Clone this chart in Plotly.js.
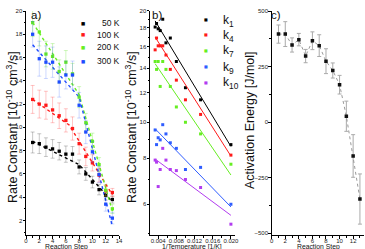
<!DOCTYPE html>
<html><head><meta charset="utf-8">
<script src="https://cdn.plot.ly/plotly-3.0.1.min.js"></script>
<style>html,body{margin:0;padding:0;background:#fff}#chart{width:365px;height:249px}</style>
</head><body><div id="chart"></div>
<script>
// ---------- Panel a: rate constants vs reaction step ----------
const steps = [1,2,3,4,5,6,7,8,9,10,11,12,13];
const k50K  = [8.7,8.6,8.3,8.15,7.95,7.7,7.7,6.6,6.0,5.3,4.65,4.15,3.8];
const k100K = [12.4,12.0,11.9,11.5,11.0,10.6,9.9,8.6,7.5,6.95,5.9,4.55,4.4];
const k200K = [19.0,18.2,16.3,16.1,14.8,15.6,14.6,12.6,10.4,8.8,6.8,4.6,3.0];
const k300K = [18.0,15.9,15.6,15.6,13.9,14.5,14.5,11.9,9.6,7.9,5.95,3.4,2.2];
const e50K  = [0.9,0.85,0.8,0.8,0.75,0.7,0.65,0.6,0.55,0.5,0.45,0.4,0.3];
const e100K = [1.2,1.2,1.2,1.1,1.1,1.0,1.0,0.9,0.8,0.7,0.6,0.45,0.35];
const e200K = [1.2,1.2,1.1,1.1,1.0,1.0,0.9,0.9,0.8,0.7,0.6,0.5,0.4];
const e300K = [1.1,1.5,1.4,1.3,1.3,1.2,1.2,1.1,1.0,0.9,0.7,0.6,0.5];
// piecewise linear fits (dotted)
const fit50X = [1,8,13],   fit50Y  = [8.8,6.8,3.6];
const fit100X = [1,6.5,13], fit100Y = [12.4,10.2,4.2];
const fit200X = [1,8,13],  fit200Y = [19.0,12.8,2.8];
const fit300X = [1,8,13],  fit300Y = [17.1,12.6,1.5];
const seriesA = ['50 K','100 K','200 K','300 K'];

// ---------- Panel b: rate constants vs 1/T ----------
const invT = [0.00333,0.00364,0.0040,0.00444,0.0050,0.00571,0.00667,0.0080,0.0100,0.01333,0.0200];
const kb1  = [18.1,18.5,17.9,17.7,19.0,16.4,16.9,14.6,12.4,11.5,8.7];
const kb4  = [15.7,16.9,16.1,16.1,16.1,15.2,13.9,13.0,11.5,10.5,8.15];
const kb7  = [14.6,13.9,14.6,12.5,14.6,13.9,12.5,11.0,10.0,9.3,7.7];
const kb9  = [9.53,8.7,9.08,8.96,9.85,9.3,8.8,8.5,7.45,7.55,6.0];
const kb10 = [7.9,7.8,6.7,7.45,8.5,7.9,7.45,7.4,7.0,6.66,5.3];
const fitBX = [0.00333,0.0200];
const fitB1 = [18.8,8.6], fitB4 = [17.0,8.1], fitB7 = [14.4,7.2], fitB9 = [9.6,5.9], fitB10 = [7.95,5.6];
const seriesB = ['k<sub>1</sub>','k<sub>4</sub>','k<sub>7</sub>','k<sub>9</sub>','k<sub>10</sub>'];

// ---------- Panel c: activation energy ----------
const eAct = [396,396,347,371,297,366,344,274,232,168,26,-153,-347];
const eActErr = [41,56,32,28,30,40,49,56,34,42,68,96,113];

const colA = ['#000000','#ff1a1a','#66ee22','#1f4dff'];
const errA = ['rgba(0,0,0,0.22)','rgba(255,30,30,0.25)','rgba(100,230,40,0.3)','rgba(30,80,255,0.22)'];
const colB = ['#000000','#ff1a1a','#66ee22','#2f5dff','#b23cf0'];

const traces = [];
const ptsA = [k50K,k100K,k200K,k300K], errsA = [e50K,e100K,e200K,e300K];
const fxA = [fit50X,fit100X,fit200X,fit300X], fyA = [fit50Y,fit100Y,fit200Y,fit300Y];
for (let i=0;i<4;i++){
  traces.push({x:fxA[i], y:fyA[i], xaxis:'x', yaxis:'y', mode:'lines', showlegend:false,
    line:{color:colA[i], width:1.4, dash:'dot'}, hoverinfo:'skip'});
}
for (let i=0;i<4;i++){
  traces.push({x:steps, y:ptsA[i], name:seriesA[i], xaxis:'x', yaxis:'y', mode:'markers', showlegend:false,
    marker:{symbol:'square', size:3.3, color:colA[i]},
    error_y:{type:'data', array:errsA[i], visible:true, color:errA[i], thickness:1, width:2}});
}
const ptsB = [kb1,kb4,kb7,kb9,kb10], fyB = [fitB1,fitB4,fitB7,fitB9,fitB10];
for (let i=0;i<5;i++){
  traces.push({x:fitBX, y:fyB[i], xaxis:'x2', yaxis:'y2', mode:'lines', showlegend:false,
    line:{color:colB[i], width:1}, hoverinfo:'skip'});
  traces.push({x:invT, y:ptsB[i], name:seriesB[i], xaxis:'x2', yaxis:'y2', mode:'markers', showlegend:false,
    marker:{symbol:'square', size:3, color:colB[i]}});
}
traces.push({x:steps, y:eAct, xaxis:'x3', yaxis:'y3', mode:'lines+markers', showlegend:false,
  line:{color:'#9a9a9a', width:1, dash:'dot'},
  marker:{symbol:'square', size:3.5, color:'#111'},
  error_y:{type:'data', array:eActErr, visible:true, color:'#aaaaaa', thickness:1, width:2}});

const W=365, H=249, T=11, B=235;
const px = v => v/W;
const py = v => (B - v)/(B - T);
const FONT = 'Liberation Sans, Arial, sans-serif';
const tf = {family:FONT, size:6, color:'#222'};
function ax(extra){
  return Object.assign({showline:true, linecolor:'#000', linewidth:1, ticks:'outside', ticklen:2.5,
    tickwidth:1, tickcolor:'#000', showgrid:false, zeroline:false, tickfont:tf, fixedrange:true}, extra);
}
function xax(extra){ return ax(Object.assign({ticklabelstandoff:-3}, extra)); }
function yax(extra){ return ax(Object.assign({ticklabelstandoff:-1}, extra)); }

const ann = [];
function txt(x,y,text,size,extra){
  ann.push(Object.assign({xref:'paper', yref:'paper', x:px(x), y:py(y), text:text, showarrow:false,
    font:{family:FONT, size:size, color:'#111'}, xanchor:'center', yanchor:'middle'}, extra||{}));
}
txt(36,15,'a)',11.5);
txt(157,15,'b)',11.5);
txt(276,15,'c)',11.5);
txt(12,127,'Rate Constant [10<sup>-10</sup> cm<sup>3</sup>/s]',12.5,{textangle:-90});
txt(131,127,'Rate Constant [10<sup>-10</sup> cm<sup>3</sup>/s]',12.5,{textangle:-90});
txt(250,120,'Activation Energy [J/mol]',12.5,{textangle:-90});
txt(66,246.5,'Reaction Step',6.8);
txt(192,246.5,'1/Temperature [1/K]',6.8);
txt(318,246.5,'Reaction Step',6.8);
// legend a
const legAy = [23,34.5,47,61];
for (let i=0;i<4;i++){
  txt(83,legAy[i],'■',4.5,{font:{family:'DejaVu Sans', size:4.5, color:colA[i]}});
  txt(122,legAy[i],seriesA[i],8.5,{xanchor:'right'});
}
// legend b
const legBy = [20,34.5,50,66.5,82];
for (let i=0;i<5;i++){
  txt(205.5,legBy[i],'■',4,{font:{family:'DejaVu Sans', size:4, color:colB[i]}});
  txt(221,legBy[i]+1,seriesB[i],12,{xanchor:'left'});
}

const layout = {
  width:W, height:H, margin:{l:0,r:0,t:T,b:H-B}, paper_bgcolor:'#fff', plot_bgcolor:'#fff',
  showlegend:false, annotations:ann,
  xaxis: xax({domain:[px(26),px(119)], range:[0,14], tickvals:[0,2,4,6,8,10,12,14],
    minor:{ticks:'outside', ticklen:1.5, dtick:1, tickcolor:'#000'}, anchor:'y'}),
  yaxis: yax({domain:[0,1], range:[0.75,20], tickvals:[2,4,6,8,10,12,14,16,18,20],
    minor:{ticks:'outside', ticklen:1.5, dtick:1, tickcolor:'#000'}, anchor:'x'}),
  xaxis2: xax({domain:[px(150),px(235)], range:[0.0022,0.0209], tickvals:[0.004,0.008,0.012,0.016,0.020],
    ticktext:['0.004','0.008','0.012','0.016','0.020'],
    minor:{ticks:'outside', ticklen:1.5, tickvals:[0.006,0.010,0.014,0.018], tickcolor:'#000'}, anchor:'y2'}),
  yaxis2: yax({domain:[0,1], type:'log', range:[0.695,1.301], tickvals:[6,8,10,12,14,16,18,20],
    ticktext:['6','8','10','12','14','16','18','20'],
    minor:{ticks:'outside', ticklen:1.5, tickvals:[5,7,9,11,13,15,17,19], tickcolor:'#000'}, anchor:'x2'}),
  xaxis3: xax({domain:[px(271.7),px(364)], range:[0,13.6], tickvals:[0,2,4,6,8,10,12],
    minor:{ticks:'outside', ticklen:1.5, dtick:1, tickcolor:'#000'}, anchor:'y3'}),
  yaxis3: yax({domain:[0,1], range:[-509,500], tickvals:[-500,-250,0,250,500],
    minor:{ticks:'outside', ticklen:1.5, dtick:125, tickcolor:'#000'}, anchor:'x3'})
};
Plotly.newPlot('chart', traces, layout, {staticPlot:true, displayModeBar:false});
</script></body></html>
